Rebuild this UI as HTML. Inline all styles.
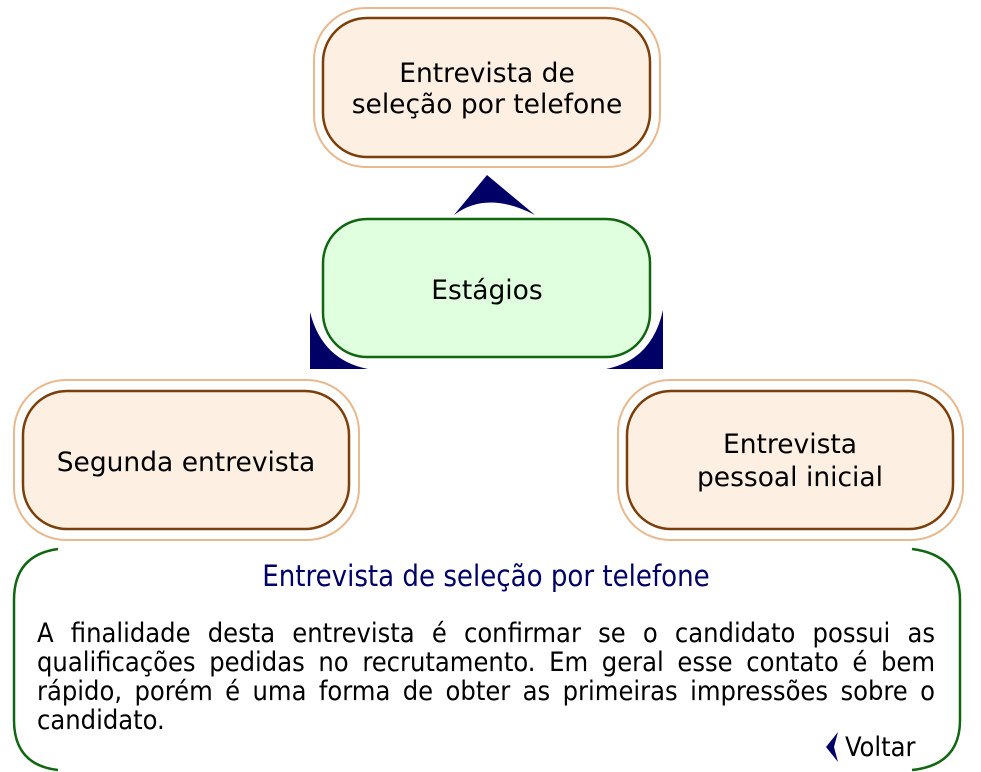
<!DOCTYPE html>
<html><head><meta charset="utf-8"><style>
html,body{margin:0;padding:0;background:#fff;}
body{width:981px;height:772px;position:relative;overflow:hidden;}
svg{position:absolute;left:0;top:0;}
text{font-family:"DejaVu Sans","Liberation Sans",sans-serif;font-size:26.5px;fill:#000;}
.panel{position:absolute;left:37px;top:619px;width:898px;font-family:"DejaVu Sans Condensed","DejaVu Sans","Liberation Sans",sans-serif;font-size:27px;line-height:29px;color:#000;}
.panel div{text-align:justify;text-align-last:justify;white-space:nowrap;height:29px;}
.panel div.last{text-align-last:left;}
.title{position:absolute;left:0;width:972px;top:559px;text-align:center;font-family:"DejaVu Sans Condensed","DejaVu Sans",sans-serif;font-size:29px;color:#000066;}
.voltar{position:absolute;left:845px;top:732px;font-family:"DejaVu Sans Condensed","DejaVu Sans",sans-serif;font-size:27px;color:#000;}
</style></head><body>
<svg width="981" height="772" viewBox="0 0 981 772">
<g fill="none" stroke="#e8b98e" stroke-width="2">
<rect x="314" y="8" width="346" height="159" rx="52"/>
<rect x="14" y="380" width="345" height="160" rx="52"/>
<rect x="618" y="380" width="345" height="160" rx="52"/>
</g>
<g fill="#fdf0e2" stroke="#7a3f0a" stroke-width="2.5">
<rect x="323" y="18" width="327" height="139" rx="44"/>
<rect x="23" y="391" width="326" height="138" rx="44"/>
<rect x="627" y="391" width="326" height="138" rx="44"/>
</g>
<rect x="323" y="219" width="327" height="138" rx="44" fill="#dfffdf" stroke="#116611" stroke-width="2.5"/>
<g fill="#000066">
<path d="M487,175 L535,215 Q487,190 454,215 Z"/>
<path d="M310,312 L310,369 L368,369 Q322,360 310,312 Z"/>
<path d="M663,310 L663,369 L606,369 Q652,360 663,310 Z"/>
<path d="M838,732 L826,747 L838,762 L834,747 Z"/>
</g>
<g fill="none" stroke="#116611" stroke-width="2.5">
<path d="M58,549 Q14,555 14,600 L14,720 Q14,765 58,770"/>
<path d="M912,549 Q960,555 960,600 L960,720 Q960,765 912,770"/>
</g>
<text x="487" y="82" text-anchor="middle">Entrevista de</text>
<text x="487" y="113" text-anchor="middle">seleção por telefone</text>
<text x="487" y="299" text-anchor="middle">Estágios</text>
<text x="186" y="471" text-anchor="middle">Segunda entrevista</text>
<text x="790" y="453" text-anchor="middle">Entrevista</text>
<text x="790" y="486" text-anchor="middle">pessoal inicial</text>
</svg>
<div class="title">Entrevista de seleção por telefone</div>
<div class="panel">
<div>A finalidade desta entrevista é confirmar se o candidato possui as</div>
<div>qualificações pedidas no recrutamento. Em geral esse contato é bem</div>
<div>rápido, porém é uma forma de obter as primeiras impressões sobre o</div>
<div class="last">candidato.</div>
</div>
<div class="voltar">Voltar</div>
</body></html>
